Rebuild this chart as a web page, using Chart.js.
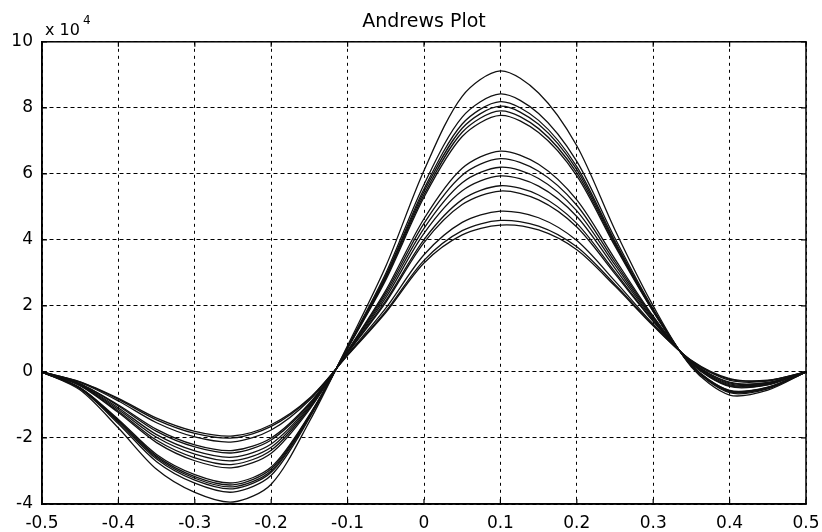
<!DOCTYPE html>
<html>
<head>
<meta charset="utf-8">
<title>Andrews Plot</title>
<script src="https://cdn.jsdelivr.net/npm/chart.js@4.4.1/dist/chart.umd.min.js"></script>
<style>
    html, body { margin: 0; padding: 0; background: #fff; }
    #wrap { width: 822px; height: 532px; }
</style>
</head>
<body>
<div id="wrap"><canvas id="andrewsChart" width="822" height="532"></canvas></div>
<script>
const tValues = [-0.5, -0.45, -0.4, -0.35, -0.3, -0.25, -0.2, -0.15, -0.1, -0.05, 0,
                 0.05, 0.1, 0.15, 0.2, 0.25, 0.3, 0.35, 0.4, 0.45, 0.5];

// Curve values in units of 10^4 (highest peak first)
const curve01 = [0, -0.55, -1.70, -2.95, -3.65, -3.94, -3.40, -1.50, 0.80, 3.20, 6.10, 8.35, 9.12, 8.45, 6.85, 4.30, 2.00, 0.15, -0.70, -0.55, 0];
const curve02 = [0, -0.51, -1.57, -2.72, -3.37, -3.64, -3.13, -1.40, 0.76, 2.99, 5.68, 7.72, 8.42, 7.83, 6.38, 4.05, 1.91, 0.18, -0.63, -0.51, 0];
const curve03 = [0, -0.50, -1.52, -2.64, -3.28, -3.54, -3.04, -1.36, 0.74, 2.92, 5.54, 7.51, 8.19, 7.62, 6.22, 3.96, 1.88, 0.19, -0.60, -0.49, 0];
const curve04 = [0, -0.49, -1.49, -2.59, -3.22, -3.48, -2.99, -1.34, 0.73, 2.88, 5.46, 7.38, 8.05, 7.50, 6.13, 3.91, 1.86, 0.20, -0.59, -0.48, 0];
const curve05 = [0, -0.49, -1.47, -2.55, -3.17, -3.42, -2.93, -1.32, 0.72, 2.84, 5.37, 7.26, 7.91, 7.37, 6.03, 3.86, 1.84, 0.20, -0.57, -0.47, 0];
const curve06 = [0, -0.48, -1.44, -2.50, -3.11, -3.36, -2.88, -1.30, 0.71, 2.79, 5.29, 7.13, 7.77, 7.25, 5.94, 3.81, 1.83, 0.21, -0.56, -0.46, 0];
const curve07 = [0, -0.42, -1.23, -2.14, -2.69, -2.90, -2.46, -1.14, 0.64, 2.47, 4.64, 6.17, 6.69, 6.29, 5.21, 3.42, 1.69, 0.25, -0.44, -0.39, 0];
const curve08 = [0, -0.41, -1.19, -2.07, -2.60, -2.80, -2.37, -1.10, 0.63, 2.40, 4.50, 5.96, 6.46, 6.08, 5.05, 3.33, 1.66, 0.26, -0.42, -0.38, 0];
const curve09 = [0, -0.39, -1.14, -1.98, -2.49, -2.69, -2.28, -1.06, 0.61, 2.33, 4.35, 5.73, 6.20, 5.86, 4.88, 3.24, 1.63, 0.28, -0.39, -0.36, 0];
const curve10 = [0, -0.38, -1.09, -1.90, -2.39, -2.58, -2.18, -1.02, 0.60, 2.25, 4.20, 5.49, 5.94, 5.63, 4.71, 3.14, 1.59, 0.29, -0.36, -0.35, 0];
const curve11 = [0, -0.36, -1.03, -1.80, -2.27, -2.45, -2.06, -0.98, 0.58, 2.16, 4.01, 5.22, 5.64, 5.36, 4.50, 3.03, 1.55, 0.30, -0.33, -0.33, 0];
const curve12 = [0, -0.36, -1.00, -1.74, -2.21, -2.38, -2.00, -0.95, 0.57, 2.11, 3.92, 5.07, 5.48, 5.21, 4.39, 2.97, 1.53, 0.31, -0.31, -0.32, 0];
const curve13 = [0, -0.32, -0.88, -1.54, -1.97, -2.12, -1.76, -0.86, 0.53, 1.93, 3.55, 4.53, 4.87, 4.67, 3.98, 2.75, 1.45, 0.33, -0.25, -0.28, 0];
const curve14 = [0, -0.31, -0.83, -1.45, -1.86, -2.00, -1.65, -0.82, 0.51, 1.84, 3.38, 4.28, 4.59, 4.42, 3.79, 2.65, 1.42, 0.34, -0.22, -0.26, 0];
const curve15 = [0, -0.30, -0.80, -1.40, -1.80, -1.94, -1.60, -0.80, 0.50, 1.80, 3.30, 4.15, 4.45, 4.30, 3.70, 2.60, 1.40, 0.35, -0.20, -0.25, 0];

const curves = [curve01, curve02, curve03, curve04, curve05, curve06, curve07, curve08,
                curve09, curve10, curve11, curve12, curve13, curve14, curve15];

const FONT = 'DejaVu Sans';

// Frame on all four sides, inward tick marks, and the "x 10^4" exponent label
const framePlugin = {
    id: 'matlabFrame',
    afterDraw(chart) {
        const { ctx, chartArea: a, scales } = chart;
        ctx.save();
        ctx.strokeStyle = '#000';
        ctx.lineWidth = 1.5;
        ctx.setLineDash([]);
        ctx.strokeRect(a.left, a.top, a.right - a.left, a.bottom - a.top);

        const tl = 5;
        ctx.lineWidth = 1.2;
        ctx.beginPath();
        scales.x.ticks.forEach(t => {
            const px = scales.x.getPixelForValue(t.value);
            ctx.moveTo(px, a.bottom); ctx.lineTo(px, a.bottom - tl);
            ctx.moveTo(px, a.top); ctx.lineTo(px, a.top + tl);
        });
        scales.y.ticks.forEach(t => {
            const py = scales.y.getPixelForValue(t.value);
            ctx.moveTo(a.left, py); ctx.lineTo(a.left + tl, py);
            ctx.moveTo(a.right, py); ctx.lineTo(a.right - tl, py);
        });
        ctx.stroke();

        ctx.fillStyle = '#000';
        ctx.textBaseline = 'alphabetic';
        ctx.textAlign = 'left';
        ctx.font = '16px "' + FONT + '"';
        ctx.fillText('x 10', a.left + 3, a.top - 7);
        const w = ctx.measureText('x 10').width;
        ctx.font = '12px "' + FONT + '"';
        ctx.fillText('4', a.left + 3 + w + 3, a.top - 18);
        ctx.restore();
    }
};

const datasets = curves.map((vals, i) => ({
    label: 'Curve ' + (i + 1),
    data: vals.map((v, j) => ({ x: tValues[j], y: v })),
    borderColor: '#111',
    borderWidth: 1.3,
    pointRadius: 0,
    fill: false,
    tension: 0.3
}));

const ctx = document.getElementById('andrewsChart').getContext('2d');
const andrewsChart = new Chart(ctx, {
    type: 'line',
    data: { datasets: datasets },
    options: {
        responsive: false,
        devicePixelRatio: 1,
        animation: false,
        layout: { padding: { top: 0, right: 16, bottom: 0, left: 0 } },
        plugins: {
            legend: { display: false },
            tooltip: { enabled: false },
            title: {
                display: true, text: 'Andrews Plot', fullSize: false,
                color: '#000', font: { family: FONT, size: 19, weight: 'normal' },
                padding: { top: 11, bottom: 8 }
            }
        },
        scales: {
            x: {
                type: 'linear', min: -0.5, max: 0.5,
                afterFit: s => {
                    s.height = 28;
                    // labels may overhang the plot edges, as in the original
                    s.paddingLeft = 0;
                    s.paddingRight = 0;
                },
                ticks: {
                    stepSize: 0.1, autoSkip: false, maxRotation: 0, padding: 9,
                    color: '#000', font: { family: FONT, size: 17 },
                    callback: v => {
                        const r = Math.round(v * 10) / 10;
                        return r === 0 ? '0' : r.toFixed(1);
                    }
                },
                grid: { color: '#000', lineWidth: 1, drawTicks: false },
                border: { display: true, color: '#000', width: 1.5, dash: [3, 4] }
            },
            y: {
                min: -4, max: 10,
                afterFit: s => { s.width = 42; },
                ticks: {
                    stepSize: 2, padding: 9,
                    color: '#000', font: { family: FONT, size: 17 },
                    callback: v => String(Math.round(v))
                },
                grid: { color: '#000', lineWidth: 1, drawTicks: false },
                border: { display: true, color: '#000', width: 1.5, dash: [4, 3] }
            }
        }
    },
    plugins: [framePlugin]
});
</script>
</body>
</html>
